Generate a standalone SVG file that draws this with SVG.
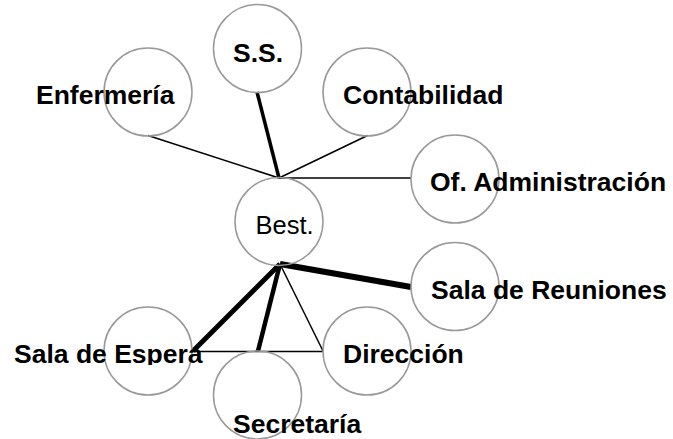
<svg xmlns="http://www.w3.org/2000/svg" width="673" height="439" viewBox="0 0 673 439">
<style>
.c{fill:none;stroke:#999999;stroke-width:1.5}
.t{font-family:"Liberation Sans",Arial,sans-serif;font-size:26.5px;font-weight:bold;fill:#000}
.r{font-family:"Liberation Sans",Arial,sans-serif;font-size:25.5px;fill:#000}
.l{stroke:#000;stroke-linecap:butt;fill:none}
</style>
<defs>
<clipPath id="clipEsp"><rect x="0" y="330" width="260" height="35"/></clipPath>
</defs>
<rect width="673" height="439" fill="#fff"/>
<g id="connectors">
<line class="l" x1="148" y1="135.5" x2="279" y2="178" stroke-width="1.5"/>
<line class="l" x1="257" y1="92" x2="279" y2="178" stroke-width="3.5"/>
<line class="l" x1="367.5" y1="135.5" x2="279" y2="178" stroke-width="1.5"/>
<line class="l" x1="279" y1="178" x2="411" y2="178" stroke-width="1.5"/>
<line class="l" x1="280" y1="264" x2="411" y2="287" stroke-width="6"/>
<line class="l" x1="280" y1="264" x2="193" y2="351" stroke-width="5"/>
<line class="l" x1="280" y1="264" x2="258" y2="351" stroke-width="4.5"/>
<line class="l" x1="280" y1="264" x2="323" y2="351" stroke-width="1.5"/>
<line class="l" x1="192" y1="351.5" x2="323" y2="351.5" stroke-width="1.5"/>
</g>
<g id="enfermeria">
<circle class="c" cx="148" cy="92" r="44"/>
<text class="t" x="36" y="104">Enfermería</text>
</g>
<g id="ss">
<circle class="c" cx="257.5" cy="48.5" r="44"/>
<text class="t" x="233" y="62">S.S.</text>
</g>
<g id="contabilidad">
<circle class="c" cx="367" cy="92" r="44"/>
<text class="t" x="343" y="104">Contabilidad</text>
</g>
<g id="administracion">
<circle class="c" cx="455" cy="179" r="44"/>
<text class="t" x="430" y="191">Of. Administración</text>
</g>
<g id="best">
<circle class="c" cx="279" cy="221.5" r="44"/>
<text class="r" x="255.5" y="234">Best.</text>
</g>
<g id="reuniones">
<circle class="c" cx="455" cy="286.5" r="44"/>
<text class="t" x="431" y="299">Sala de Reuniones</text>
</g>
<g id="direccion">
<circle class="c" cx="367" cy="351" r="44"/>
<text class="t" x="343" y="363">Dirección</text>
</g>
<g id="espera">
<circle class="c" cx="148" cy="351" r="44"/>
<text class="t" x="14" y="363" clip-path="url(#clipEsp)">Sala de Espera</text>
</g>
<g id="secretaria">
<circle class="c" cx="257.5" cy="395" r="44"/>
<text class="t" x="233" y="433">Secretaría</text>
</g>
</svg>
